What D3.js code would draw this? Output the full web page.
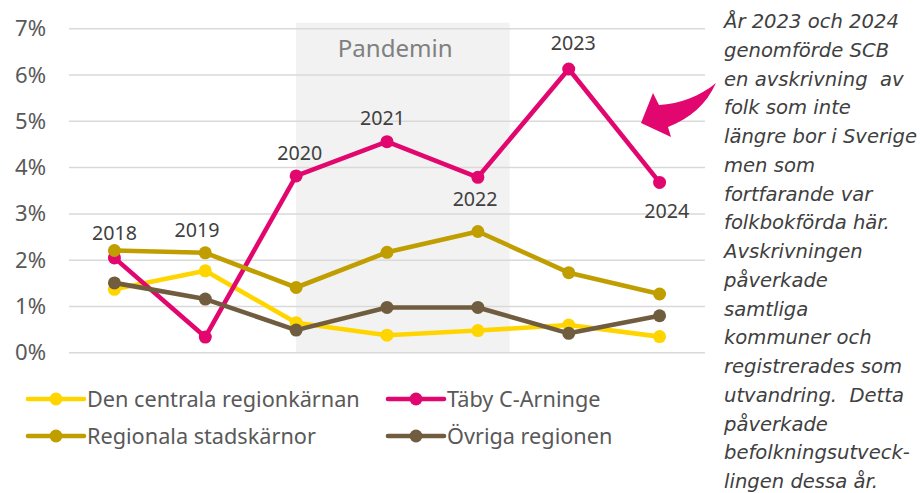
<!DOCTYPE html>
<html>
<head>
<meta charset="utf-8">
<script src="https://cdn.jsdelivr.net/npm/d3@7"></script>
<style>
  html, body { margin: 0; padding: 0; background: #ffffff; }
  svg { display: block; }
</style>
</head>
<body>
<svg id="chart" width="922" height="493"></svg>
<script>
// ---- data ----
const years = ["2018", "2019", "2020", "2021", "2022", "2023", "2024"];
const seriesNames = ["Den centrala regionkärnan", "Täby C-Arninge", "Regionala stadskärnor", "Övriga regionen"];
const centrala  = [1.37, 1.77, 0.65, 0.38, 0.48, 0.60, 0.35];
const taby      = [2.05, 0.34, 3.82, 4.56, 3.79, 6.13, 3.68];
const regionala = [2.21, 2.16, 1.41, 2.17, 2.62, 1.73, 1.27];
const ovriga    = [1.51, 1.16, 0.49, 0.98, 0.98, 0.42, 0.80];
const yTicks = [0, 1, 2, 3, 4, 5, 6, 7];
const seriesColors = ["#FFD500", "#E2066F", "#C09E00", "#705D3F"];
// year labels on the Täby series (anchor value in %, horizontal shift in bands)
const yearLabelValue = [2.44, 2.50, 4.16, 4.92, 3.17, 6.54, 2.91];
const yearLabelShift = [0, -0.09, 0.04, -0.05, -0.03, 0.05, 0.08];
const pandemicFrom = "2020", pandemicTo = "2022";
const pandemicLabel = "Pandemin";
const noteLines = [
  "År 2023 och 2024",
  "genomförde SCB",
  "en avskrivning  av",
  "folk som inte",
  "längre bor i Sverige",
  "men som",
  "fortfarande var",
  "folkbokförda här.",
  "Avskrivningen",
  "påverkade",
  "samtliga",
  "kommuner och",
  "registrerades som",
  "utvandring.  Detta",
  "påverkade",
  "befolkningsutveck-",
  "lingen dessa år."
];

const series = [centrala, taby, regionala, ovriga];

// ---- layout ----
const svg = d3.select("#chart");
const plot = { left: 69, right: 705, top: 28.7, bottom: 352.8 };
const font = "'Noto Sans', 'Open Sans', sans-serif";
const noteFont = "'DejaVu Sans', 'Noto Sans', sans-serif";

const x = d3.scaleBand().domain(years).range([plot.left, plot.right]);
const xc = d => x(d) + x.bandwidth() / 2;
const y = d3.scaleLinear().domain([0, 7]).range([plot.bottom, plot.top]);

// fit a font size so a sample string gets a target width
function fitSize(family, style, sample, target, base) {
  const t = svg.append("text").attr("font-family", family).attr("font-style", style)
    .attr("font-size", base).style("white-space", "pre").text(sample);
  const w = t.node().getComputedTextLength();
  t.remove();
  return w > 0 ? base * target / w : base;
}

// pandemic shading
const shadeX0 = xc(pandemicFrom), shadeX1 = xc(pandemicTo) + x.bandwidth() * 0.35;
svg.append("rect")
  .attr("x", shadeX0)
  .attr("y", y(7) - 6)
  .attr("width", shadeX1 - shadeX0)
  .attr("height", y(0) - y(7) + 6)
  .attr("fill", "#F2F2F2");

// gridlines
svg.append("g").selectAll("line").data(yTicks).join("line")
  .attr("x1", plot.left).attr("x2", plot.right)
  .attr("y1", d => y(d)).attr("y2", d => y(d))
  .attr("stroke", "#D9D9D9").attr("stroke-width", 1.5);

// y axis labels
const tickSize = fitSize(font, "normal", "7%", 31, 20);
const yAxis = d3.axisLeft(y).tickValues(yTicks).tickFormat(d => d + "%").tickSize(0).tickPadding(23);
const ga = svg.append("g").attr("transform", `translate(${plot.left},0)`).call(yAxis);
ga.select(".domain").remove();
ga.selectAll("text").attr("font-family", font).attr("font-size", tickSize).attr("fill", "#595959");

// pandemic label
const pandSize = fitSize(font, "normal", pandemicLabel, 115, 20);
svg.append("text")
  .attr("x", xc("2021") + x.bandwidth() * 0.09)
  .attr("y", y(7) + 28)
  .attr("text-anchor", "middle")
  .attr("font-family", font).attr("font-size", pandSize).attr("fill", "#808080")
  .text(pandemicLabel);

// lines and markers
const line = d3.line().x((d, i) => xc(years[i])).y(d => y(d));
series.forEach((s, k) => {
  const g = svg.append("g");
  g.append("path").datum(s).attr("d", line)
    .attr("fill", "none").attr("stroke", seriesColors[k]).attr("stroke-width", 4.6)
    .attr("stroke-linejoin", "round").attr("stroke-linecap", "round");
  g.selectAll("circle").data(s).join("circle")
    .attr("cx", (d, i) => xc(years[i])).attr("cy", d => y(d)).attr("r", 6.5)
    .attr("fill", seriesColors[k]);
});

// year labels
const yearSize = fitSize(font, "normal", "2018", 45, 19);
svg.append("g").selectAll("text").data(years).join("text")
  .attr("x", (d, i) => xc(d) + yearLabelShift[i] * x.bandwidth())
  .attr("y", (d, i) => y(yearLabelValue[i]))
  .attr("text-anchor", "middle")
  .attr("font-family", font).attr("font-size", yearSize).attr("fill", "#404040")
  .text(d => d);

// legend
const legSize = fitSize(font, "normal", seriesNames[0], 273, 20);
const legendItems = seriesNames.map((n, i) => ({ name: n, color: seriesColors[i], col: i % 2, row: Math.floor(i / 2) }));
const colX = [28, 388], rowY = [399, 436];
const lg = svg.append("g").selectAll("g").data(legendItems).join("g")
  .attr("transform", d => `translate(${colX[d.col]},${rowY[d.row]})`);
lg.append("line").attr("x1", 0).attr("x2", 56).attr("y1", 0).attr("y2", 0)
  .attr("stroke", d => d.color).attr("stroke-width", 4.6).attr("stroke-linecap", "round");
lg.append("circle").attr("cx", 28).attr("cy", 0).attr("r", 6.5).attr("fill", d => d.color);
lg.append("text").attr("x", 59).attr("y", 0).attr("dy", "0.35em")
  .attr("font-family", font).attr("font-size", legSize).attr("fill", "#595959")
  .text(d => d.name);

// arrow (annotation)
svg.append("path")
  .attr("d", "M641,123 L653,93 L659,105 C680,104 700,96 716,83 C706,105 690,118 668,127 L671,137 Z")
  .attr("fill", "#E2066F");

// note text
const noteSize = fitSize(noteFont, "italic", "längre bor i Sverige", 193, 18);
svg.append("g").selectAll("text").data(noteLines).join("text")
  .attr("x", 724).attr("y", (d, i) => 28 + i * 28.75)
  .attr("font-family", noteFont).attr("font-style", "italic")
  .attr("font-size", noteSize).attr("fill", "#404040")
  .style("white-space", "pre")
  .text(d => d);
</script>
</body>
</html>
